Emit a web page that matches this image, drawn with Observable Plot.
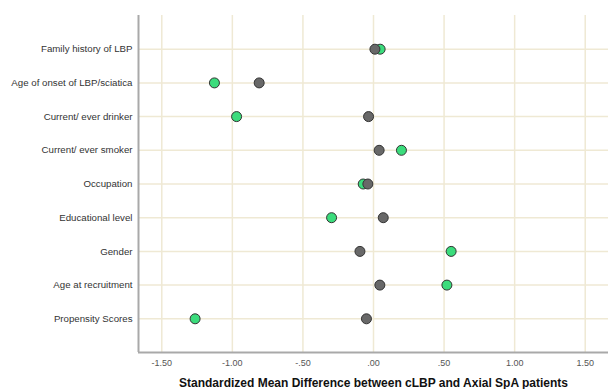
<!DOCTYPE html>
<html>
<head>
<meta charset="utf-8">
<script src="https://cdn.jsdelivr.net/npm/d3@7"></script>
<script src="https://cdn.jsdelivr.net/npm/@observablehq/plot@0.6"></script>
<style>
  body { margin: 0; background: #fff; font-family: "Liberation Sans", Arial, sans-serif; }
</style>
</head>
<body>
<div id="chart"></div>
<script>
const categories = [
  "Family history of LBP",
  "Age of onset of LBP/sciatica",
  "Current/ ever drinker",
  "Current/ ever smoker",
  "Occupation",
  "Educational level",
  "Gender",
  "Age at recruitment",
  "Propensity Scores"
];
// green points
const smdGreen = [0.047, -1.127, -0.97, 0.198, -0.073, -0.297, 0.55, 0.52, -1.264];
// grey points
const smdGrey = [0.01, -0.81, -0.035, 0.04, -0.04, 0.069, -0.096, 0.045, -0.05];
const xTicks = [-1.5, -1.0, -0.5, 0, 0.5, 1.0, 1.5];
const xLabel = "Standardized Mean Difference between cLBP and Axial SpA patients";

const greenData = categories.map((c, i) => ({category: c, value: smdGreen[i]}));
const greyData = categories.map((c, i) => ({category: c, value: smdGrey[i]}));

const xDomain = [-1.665, 1.665];
const fmt = d => d3.format(".2f")(d).replace(/\u2212/g, "-").replace(/^(-?)0\./, "$1.");

const chart = Plot.plot({
  width: 608,
  height: 389,
  marginLeft: 138,
  marginRight: 0,
  marginTop: 15,
  marginBottom: 37,
  style: {fontFamily: "'Liberation Sans', Arial, sans-serif", background: "#fff"},
  x: {domain: xDomain},
  y: {type: "point", domain: categories, padding: 1, round: false},
  marks: [
    Plot.gridX(xTicks, {stroke: "#efe9d4", strokeOpacity: 1, strokeWidth: 1.5}),
    Plot.gridY(categories, {stroke: "#efe9d4", strokeOpacity: 1, strokeWidth: 1.5}),
    Plot.ruleX([xDomain[0]], {stroke: "#a9a9a9", strokeWidth: 2}),
    Plot.ruleY([categories[categories.length - 1]], {stroke: "#a9a9a9", strokeWidth: 2, dy: 33.7, x1: xDomain[0], x2: xDomain[1]}),
    Plot.axisX(xTicks, {tickFormat: fmt, tickSize: 0, tickPadding: 7, fontSize: 9, color: "#555",
      label: xLabel, labelAnchor: "center", labelArrow: "none", labelOffset: 34}),
    Plot.axisY({tickSize: 0, tickPadding: 6, fontSize: 9.7, color: "#333", label: null}),
    Plot.dot(greenData, {x: "value", y: "category", r: 5, fill: "#3bdc7c", stroke: "#333", strokeWidth: 1}),
    Plot.dot(greyData, {x: "value", y: "category", r: 5, fill: "#686868", stroke: "#333", strokeWidth: 1})
  ]
});
d3.select(chart).selectAll("[aria-label='x-axis label'] text").attr("font-weight", "bold").attr("font-size", 12).attr("fill", "#111");
document.getElementById("chart").appendChild(chart);
</script>
</body>
</html>
